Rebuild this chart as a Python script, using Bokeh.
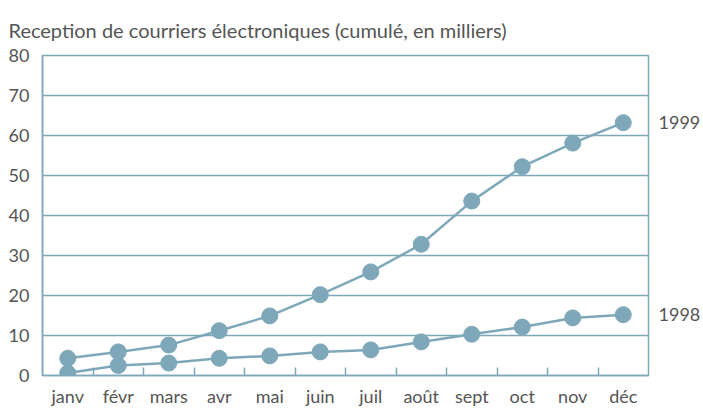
from bokeh.plotting import figure
from bokeh.models import Range1d, FixedTicker, LinearAxis
from bokeh.embed import file_html
from bokeh.resources import INLINE

months = ["janv", "févr", "mars", "avr", "mai", "juin", "juil", "août", "sept", "oct", "nov", "déc"]
v1999 = [4.3, 5.9, 7.6, 11.2, 14.9, 20.2, 25.9, 32.8, 43.6, 52.2, 58.1, 63.2]
v1998 = [0.6, 2.5, 3.1, 4.3, 4.9, 5.9, 6.4, 8.4, 10.3, 12.1, 14.4, 15.2]
series_names = ["1999", "1998"]
y_ticks = [0, 10, 20, 30, 40, 50, 60, 70, 80]
title_text = "Reception de courriers électroniques (cumulé, en milliers)"

C = "#7ea8ba"
TXT = "#555555"
FONT = "Lato"

xs = [i + 0.5 for i in range(len(months))]

p = figure(frame_width=606, frame_height=320, output_backend="svg", toolbar_location=None,
           x_range=Range1d(0, len(months)), y_range=Range1d(0, 80),
           min_border_left=42, min_border_right=0, min_border_top=55, min_border_bottom=0)

p.title.text = title_text
p.title.text_font = FONT
p.title.text_font_size = "20px"
p.title.text_font_style = "normal"
p.title.text_color = TXT
p.title.align = "left"
p.title.offset = -34
p.title.standoff = 28

for vals in (v1999, v1998):
    p.line(xs, vals, line_color=C, line_width=2.5)
    p.scatter(xs, vals, size=16, fill_color=C, line_color=C)

p.xaxis.ticker = FixedTicker(ticks=xs, minor_ticks=list(range(1, len(months))))
p.xaxis.major_label_overrides = {x: m for x, m in zip(xs, months)}
p.xaxis.major_tick_line_color = None
p.xaxis.minor_tick_in = 8
p.xaxis.minor_tick_out = 0
p.xaxis.minor_tick_line_color = C
p.xaxis.minor_tick_line_width = 1.5
p.xaxis.axis_line_color = C
p.xaxis.axis_line_width = 1.5
p.xaxis.major_label_text_font = FONT
p.xaxis.major_label_text_font_size = "18px"
p.xaxis.major_label_text_color = TXT
p.xaxis.major_label_standoff = 3

p.yaxis.ticker = FixedTicker(ticks=y_ticks)
p.yaxis.major_tick_line_color = None
p.yaxis.minor_tick_line_color = None
p.yaxis.axis_line_color = C
p.yaxis.axis_line_width = 1.5
p.yaxis.major_label_text_font = FONT
p.yaxis.major_label_text_font_size = "18px"
p.yaxis.major_label_text_color = TXT
p.yaxis.major_label_standoff = 7

# series names as labels on a right-hand axis, at the last value of each series
ends = [v1999[-1], v1998[-1]]
rax = LinearAxis(ticker=FixedTicker(ticks=ends),
                 major_label_overrides={v: n for v, n in zip(ends, series_names)})
rax.axis_line_color = None
rax.major_tick_line_color = None
rax.minor_tick_line_color = None
rax.major_label_text_font = FONT
rax.major_label_text_font_size = "18px"
rax.major_label_text_color = TXT
rax.major_label_standoff = 4
p.add_layout(rax, "right")

p.xgrid.grid_line_color = None
p.ygrid.ticker = FixedTicker(ticks=y_ticks)
p.ygrid.grid_line_color = C
p.ygrid.grid_line_width = 1.5

p.outline_line_color = C
p.outline_line_width = 1.5
p.outline_line_alpha = 1.0

open("out.html", "w").write(file_html(p, INLINE))
